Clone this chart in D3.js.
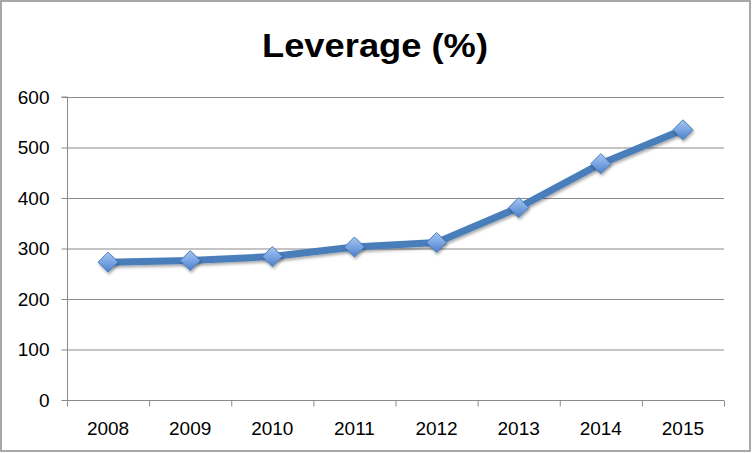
<!DOCTYPE html>
<html><head><meta charset="utf-8">
<script src="https://cdn.jsdelivr.net/npm/d3@7"></script>
<style>body{margin:0;background:#fff}svg{display:block;font-family:"Liberation Sans",Arial,sans-serif}</style>
</head><body>
<svg id="c" width="752" height="453"></svg>
<script>
const years = ["2008","2009","2010","2011","2012","2013","2014","2015"];
const leverage = [273, 276, 284, 303, 312, 381, 468, 535];
const yTicks = [0,100,200,300,400,500,600];
const title = "Leverage (%)";

const svg = d3.select("#c");
const W = 752, H = 453;
const m = {l:67, r:28, t:97, b:53};
const x = d3.scaleBand().domain(years).range([m.l, W - m.r]);
const y = d3.scaleLinear().domain([0,600]).range([H - m.b, m.t]);

const defs = svg.append("defs");
const g = defs.append("linearGradient").attr("id","dg").attr("x1","0").attr("y1","0").attr("x2","0").attr("y2","1");
g.append("stop").attr("offset","0").attr("stop-color","#a9c6f0");
g.append("stop").attr("offset","0.5").attr("stop-color","#7aa5e3");
g.append("stop").attr("offset","1").attr("stop-color","#4f7fc8");
const f = defs.append("filter").attr("id","sh").attr("x","-50%").attr("y","-50%").attr("width","200%").attr("height","200%");
f.append("feDropShadow").attr("dx",1).attr("dy",2).attr("stdDeviation",1.5).attr("flood-color","#000").attr("flood-opacity",0.35);

svg.append("rect").attr("x",1).attr("y",1).attr("width",W-3).attr("height",H-3)
  .attr("fill","#fff").attr("stroke","#8c8c8c").attr("stroke-width",1.5);

svg.append("text").attr("x",375).attr("y",57).attr("text-anchor","middle")
  .attr("font-size",34).attr("font-weight","bold").attr("fill","#000")
  .attr("textLength",226).attr("lengthAdjust","spacingAndGlyphs").text(title);

// gridlines
svg.append("g").selectAll("line").data(yTicks.filter(d=>d>0)).join("line")
  .attr("x1",m.l).attr("x2",W-m.r).attr("y1",d=>y(d)+0.5).attr("y2",d=>y(d)+0.5)
  .attr("stroke","#8a8a8a").attr("stroke-width",1.2);

// y axis
const ya = svg.append("g").attr("transform",`translate(${m.l+0.5},0)`)
  .call(d3.axisLeft(y).tickValues(yTicks).tickSize(6).tickPadding(12));
ya.select(".domain").attr("stroke","#8a8a8a").attr("d",`M-6,${y(600)}H0V${y(0)+5}`);
ya.selectAll(".tick line").attr("stroke","#8a8a8a");
ya.selectAll("text").attr("font-size",19).attr("fill","#000").attr("font-family","Liberation Sans, Arial, sans-serif");

// x axis
const xa = svg.append("g").attr("transform",`translate(0,${y(0)+0.5})`);
xa.append("line").attr("x1",m.l).attr("x2",W-m.r).attr("stroke","#8a8a8a").attr("stroke-width",1.2);
const bounds = years.map(d=>x(d)).concat([x(years[years.length-1])+x.bandwidth()]);
xa.selectAll(".tk").data(bounds).join("line").attr("class","tk")
  .attr("x1",d=>d+0.5).attr("x2",d=>d+0.5).attr("y1",0).attr("y2",6).attr("stroke","#8a8a8a");
xa.selectAll("text").data(years).join("text")
  .attr("x",d=>x(d)+x.bandwidth()/2).attr("y",34).attr("text-anchor","middle")
  .attr("font-size",19).attr("fill","#000").text(d=>d);

// line
const pts = years.map((d,i)=>[x(d)+x.bandwidth()/2, y(leverage[i])]);
svg.append("path").attr("d",d3.line()(pts)).attr("fill","none")
  .attr("stroke","#4a7ebb").attr("stroke-width",7).attr("stroke-linejoin","round")
  .attr("filter","url(#sh)");

svg.append("g").selectAll("path").data(pts).join("path")
  .attr("transform",d=>`translate(${d[0]},${d[1]})`)
  .attr("d","M0,-10L10,0L0,10L-10,0Z")
  .attr("fill","url(#dg)").attr("stroke","#4a7ebb").attr("stroke-width",1)
  .attr("filter","url(#sh)");
</script>
</body></html>
